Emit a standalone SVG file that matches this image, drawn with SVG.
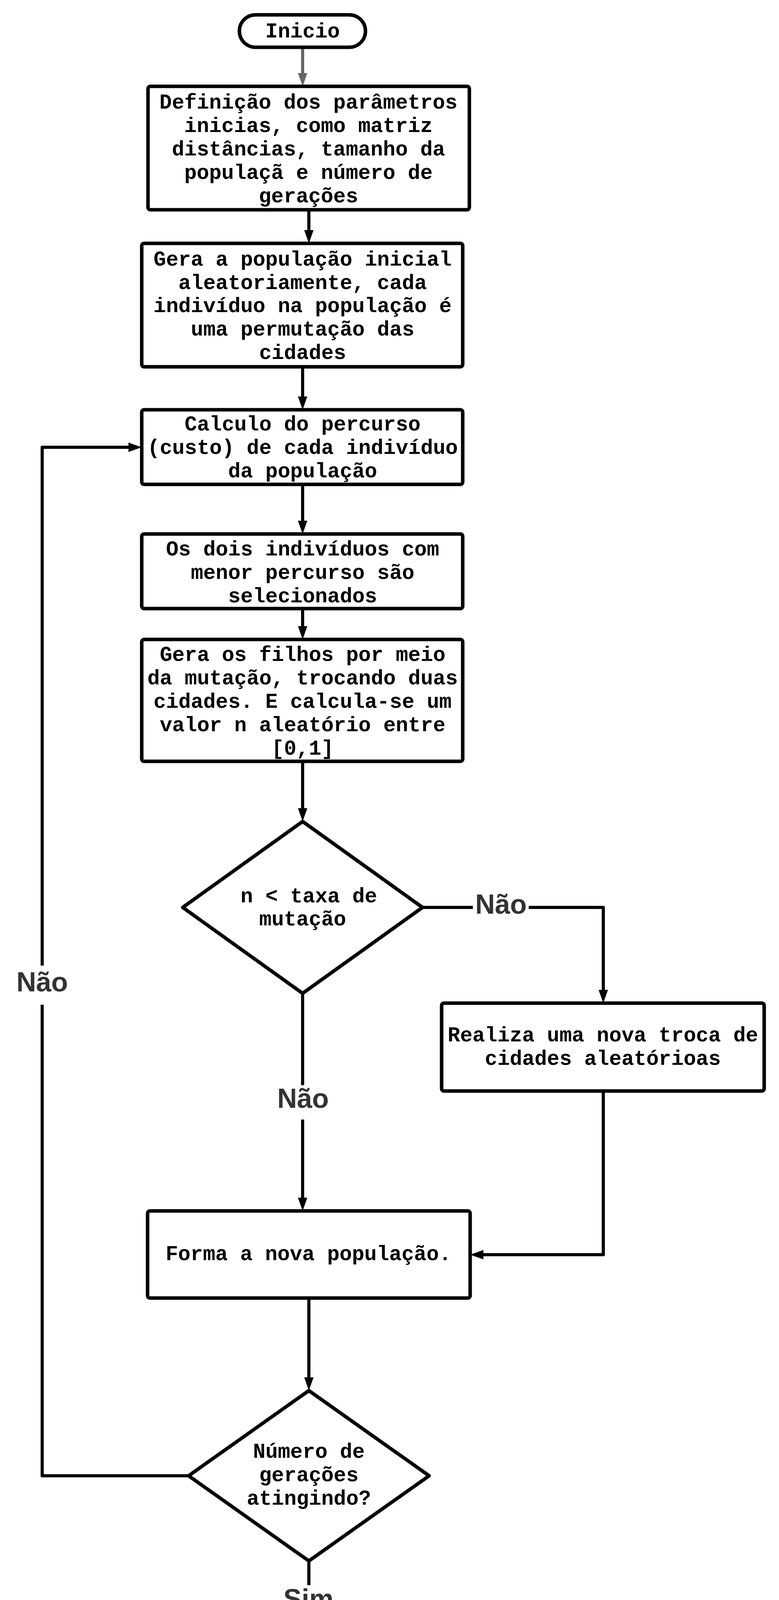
<svg xmlns="http://www.w3.org/2000/svg" width="1995" height="4731" viewBox="0 0 1995 4731">
<style>
.box{fill:#fff;stroke:#000;stroke-width:9;stroke-linejoin:round}
.t{font-family:"Liberation Mono","Courier New",monospace;font-weight:bold;font-size:53px;fill:#000;text-anchor:middle}
.c{fill:none;stroke:#000;stroke-width:8;stroke-linejoin:round}
.cg{fill:none;stroke:#666;stroke-width:8}
.lbl{font-family:"Liberation Sans",Arial,sans-serif;font-weight:bold;font-size:70px;fill:#333;text-anchor:middle}
.bg{fill:#fff;stroke:none}
</style>
<defs>
<marker id="ah" markerUnits="userSpaceOnUse" viewBox="0 0 34 24" refX="4" refY="12" markerWidth="34" markerHeight="24" orient="auto">
<path d="M0,0 L34,12 L0,24 Z" fill="#000"/>
</marker>
<marker id="ahg" markerUnits="userSpaceOnUse" viewBox="0 0 34 24" refX="4" refY="12" markerWidth="34" markerHeight="24" orient="auto">
<path d="M0,0 L34,12 L0,24 Z" fill="#666"/>
</marker>
</defs>
<rect width="1995" height="4731" fill="#fff"/>
<g id="connectors">
<path class="cg" d="M775,121 V191" marker-end="url(#ahg)"/>
<path class="c" d="M791,537 V593" marker-end="url(#ah)"/>
<path class="c" d="M775,939 V1019" marker-end="url(#ah)"/>
<path class="c" d="M775,1240 V1337" marker-end="url(#ah)"/>
<path class="c" d="M775,1558 V1607" marker-end="url(#ah)"/>
<path class="c" d="M775,1949 V2073" marker-end="url(#ah)"/>
<path class="c" d="M1082,2323 H1545 V2538" marker-end="url(#ah)"/>
<path class="c" d="M775,2543 V3070" marker-end="url(#ah)"/>
<path class="c" d="M1545,2793 V3212 H1234" marker-end="url(#ah)"/>
<path class="c" d="M791,3323 V3530" marker-end="url(#ah)"/>
<path class="c" d="M483,3778 H108 V1145 H333" marker-end="url(#ah)"/>
<path class="c" d="M791,3996 V4181" marker-end="url(#ah)"/>
<path class="c" d="M791,4437 V4578" marker-end="url(#ah)"/>
<rect class="bg" x="1211" y="2280" width="143" height="76"/>
<text class="lbl" x="1283" y="2339">Não</text>
<rect class="bg" x="703" y="2778" width="146" height="88"/>
<text class="lbl" x="776" y="2836">Não</text>
<rect class="bg" x="35" y="2472" width="146" height="100"/>
<text class="lbl" x="108" y="2538">Não</text>
<rect class="bg" x="722" y="4058" width="138" height="91"/>
<text class="lbl" x="790" y="4117">Sim</text>
</g>
<g id="inicio">
<rect class="box" x="613" y="38" width="323" height="83" rx="41.5"/>
<text class="t" x="775" y="96">Inicio</text>
</g>
<g id="definicao">
<rect class="box" x="379" y="221" width="823" height="316" rx="6"/>
<text class="t" x="790" y="278">Definição dos parâmetros</text>
<text class="t" x="790" y="338">inicias, como matriz</text>
<text class="t" x="790" y="398">distâncias, tamanho da</text>
<text class="t" x="790" y="458">populaçã e número de</text>
<text class="t" x="790" y="518">gerações</text>
</g>
<g id="gera-populacao">
<rect class="box" x="363" y="623" width="822" height="316" rx="6"/>
<text class="t" x="775" y="680">Gera a população inicial</text>
<text class="t" x="775" y="740">aleatoriamente, cada</text>
<text class="t" x="775" y="799">indivíduo na população é</text>
<text class="t" x="775" y="859">uma permutação das</text>
<text class="t" x="775" y="919">cidades</text>
</g>
<g id="calculo">
<rect class="box" x="363" y="1049" width="822" height="191" rx="6"/>
<text class="t" x="775" y="1102">Calculo do percurso</text>
<text class="t" x="775" y="1162">(custo) de cada indivíduo</text>
<text class="t" x="775" y="1222">da população</text>
</g>
<g id="selecao">
<rect class="box" x="363" y="1367" width="822" height="191" rx="6"/>
<text class="t" x="775" y="1422">Os dois indivíduos com</text>
<text class="t" x="775" y="1482">menor percurso são</text>
<text class="t" x="775" y="1542">selecionados</text>
</g>
<g id="filhos">
<rect class="box" x="363" y="1637" width="822" height="312" rx="6"/>
<text class="t" x="775" y="1692">Gera os filhos por meio</text>
<text class="t" x="775" y="1752">da mutação, trocando duas</text>
<text class="t" x="775" y="1812">cidades. E calcula-se um</text>
<text class="t" x="775" y="1872">valor n aleatório entre</text>
<text class="t" x="775" y="1932">[0,1]</text>
</g>
<g id="decisao-mutacao">
<path class="box" d="M775,2103 L1082,2323 L775,2543 L468,2323 Z"/>
<text class="t" x="791" y="2310">n &lt; taxa de</text>
<text class="t" x="775" y="2369">mutação</text>
</g>
<g id="nova-troca">
<rect class="box" x="1131" y="2568" width="826" height="225" rx="6"/>
<text class="t" x="1544" y="2666">Realiza uma nova troca de</text>
<text class="t" x="1544" y="2726">cidades aleatórioas</text>
</g>
<g id="nova-populacao">
<rect class="box" x="378" y="3100" width="826" height="223" rx="6"/>
<text class="t" x="790" y="3226">Forma a nova população.</text>
</g>
<g id="decisao-geracoes">
<path class="box" d="M791,3560 L1099,3778 L791,3996 L483,3778 Z"/>
<text class="t" x="791" y="3732">Número de</text>
<text class="t" x="791" y="3792">gerações</text>
<text class="t" x="791" y="3852">atingindo?</text>
</g>
<g id="solucao">
<rect class="box" x="378" y="4211" width="826" height="226" rx="6"/>
<text class="t" x="791" y="4338">Solução Final</text>
</g>
<g id="fim">
<rect class="box" x="629" y="4608" width="325" height="84" rx="42"/>
<text class="t" x="791" y="4666">Fim</text>
</g>
</svg>
